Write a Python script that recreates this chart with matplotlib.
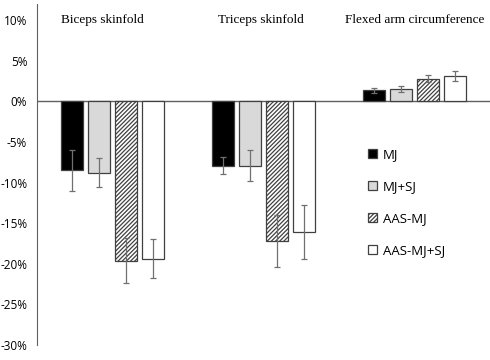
import matplotlib
matplotlib.use("Agg")
import matplotlib.pyplot as plt
import numpy as np

plt.rcParams['hatch.linewidth'] = 0.9

categories = ["Biceps skinfold", "Triceps skinfold", "Flexed arm circumference"]
groups = ["MJ", "MJ+SJ", "AAS-MJ", "AAS-MJ+SJ"]
mj = [-8.5, -7.9, 1.35]
mj_sj = [-8.8, -7.9, 1.5]
aas_mj = [-19.6, -17.2, 2.8]
aas_mj_sj = [-19.4, -16.1, 3.1]
mj_err = [2.5, 1.1, 0.3]
mj_sj_err = [1.8, 1.9, 0.35]
aas_mj_err = [2.8, 3.2, 0.4]
aas_mj_sj_err = [2.4, 3.3, 0.6]

values = [mj, mj_sj, aas_mj, aas_mj_sj]
errors = [mj_err, mj_sj_err, aas_mj_err, aas_mj_sj_err]
colors = ["black", "#d9d9d9", "white", "white"]
hatches = [None, None, "////////", None]

fig = plt.figure(figsize=(4.9, 3.6), dpi=100)
ax = fig.add_axes([0.0755, 0.0417, 0.9245, 0.9472])

x = np.arange(len(categories))
w = 0.143
step = 0.179
for i in range(4):
    pos = x + (i - 1.5) * step
    ax.bar(pos, values[i], w, color=colors[i], edgecolor="#404040", linewidth=0.9,
           hatch=hatches[i], label=groups[i], zorder=2)
    ax.errorbar(pos, values[i], yerr=errors[i], fmt="none", ecolor="#707070",
                elinewidth=0.9, capsize=2, capthick=0.9, zorder=3)

ax.axhline(0, color="#606060", linewidth=1, zorder=1)
ax.set_xlim(-0.5, 2.5)
ax.set_ylim(-30, 12)
ax.set_yticks(range(-30, 11, 5))
ax.set_yticklabels([f"{t}%" for t in range(-30, 11, 5)], fontsize=8.5, family="Open Sans")
ax.tick_params(axis="y", length=0, pad=7)
ax.set_xticks([])
for s in ["top", "right", "bottom"]:
    ax.spines[s].set_visible(False)
ax.spines["left"].set_color("#606060")

title_shift = [-0.07, -0.02, 0.0]
for i, c in enumerate(categories):
    ax.text(x[i] + title_shift[i], 10, c, ha="center", va="center",
            fontsize=9.5, family="Liberation Serif")

ax.legend(loc="upper left", bbox_to_anchor=(0.705, 0.613), frameon=False,
          prop={"family": "Open Sans", "size": 9.5}, handlelength=0.7,
          handleheight=0.7, handletextpad=0.4, labelspacing=1.45)

fig.savefig("out.png", dpi=100)
